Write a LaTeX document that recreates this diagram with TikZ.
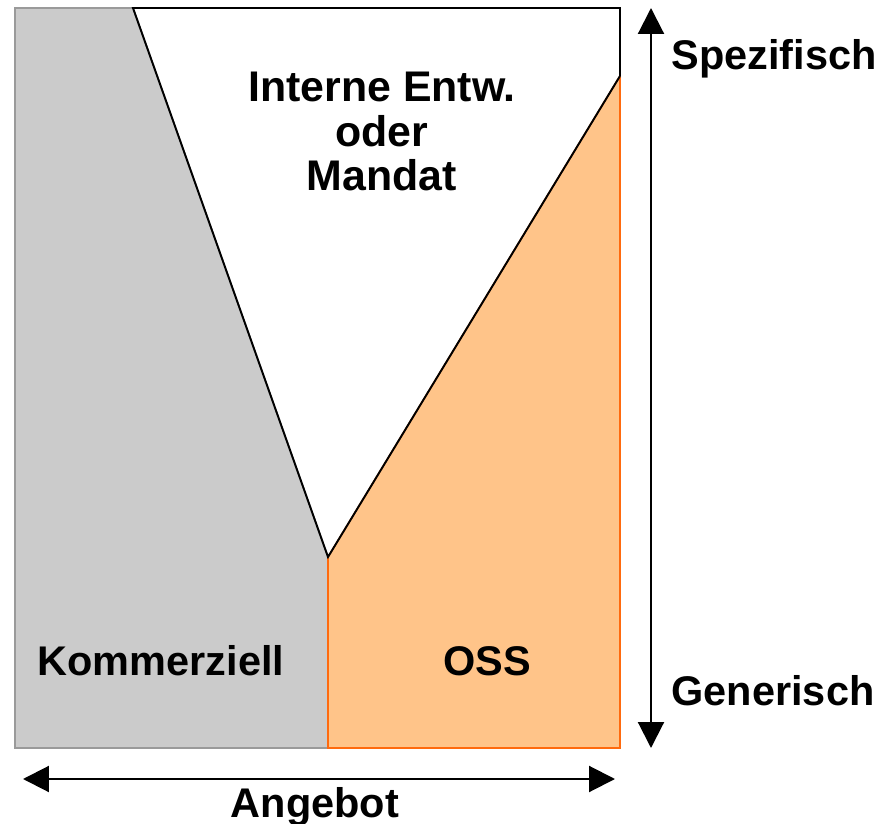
\documentclass[tikz,border=0pt]{standalone}
\usepackage{fontspec}
\setmainfont{Liberation Sans}
\usetikzlibrary{arrows.meta}
\definecolor{kommgray}{HTML}{CBCBCB}
\definecolor{kommedge}{HTML}{9A9A9A}
\definecolor{ossfill}{HTML}{FFC489}
\definecolor{ossedge}{HTML}{FF6A0E}

\begin{document}
\begin{tikzpicture}[x=0.02cm, y=-0.02cm,
  lbl/.style={font=\fontsize{23.6}{25}\selectfont\bfseries, inner sep=0pt},
  axis/.style={line width=1.2pt,
    {Triangle[length=0.52cm,width=0.52cm]}-{Triangle[length=0.52cm,width=0.52cm]}},
  outline/.style={black, line width=1.1pt, line join=miter}]
  \useasboundingbox (0,0) rectangle (883,824);
  % corners
  \coordinate (topl) at (15,8);
  \coordinate (topm) at (133,8);
  \coordinate (topr) at (620,8);
  \coordinate (midr) at (620,76);
  \coordinate (vtip) at (328,557);
  \coordinate (botl) at (15,748);
  \coordinate (botm) at (328,748);
  \coordinate (botr) at (620,748);
  % areas
  \filldraw[fill=kommgray, draw=kommedge, line width=0.9pt] (topl) -- (topm) -- (vtip) -- (botm) -- (botl) -- cycle;
  \filldraw[fill=ossfill, draw=ossedge, line width=0.9pt] (vtip) -- (midr) -- (botr) -- (botm) -- cycle;
  \draw[outline] (midr) -- (topr) -- (topm) -- (vtip) -- (midr);
  % axes
  \coordinate (ybot) at (651,748);
  \coordinate (ytop) at (651,8);
  \coordinate (xl) at (23,779);
  \coordinate (xr) at (615,779);
  \draw[axis] (ybot) -- (ytop);
  \draw[axis] (xl) -- (xr);
  % labels
  \node[lbl, font=\fontsize{24.4}{25.3}\selectfont\bfseries, anchor=north, align=center] (intern) at (382,72) {Interne Entw.\\oder\\Mandat};
  \node[lbl, anchor=base] (komm) at (161,675) {Kommerziell};
  \node[lbl, anchor=base] (oss) at (487,675) {OSS};
  \node[lbl, anchor=base] (spez) at (774,70) {Spezifisch};
  \node[lbl, anchor=base] (gen) at (773,705) {Generisch};
  \node[lbl, anchor=base] (angebot) at (315,817) {Angebot};
\end{tikzpicture}
\end{document}
